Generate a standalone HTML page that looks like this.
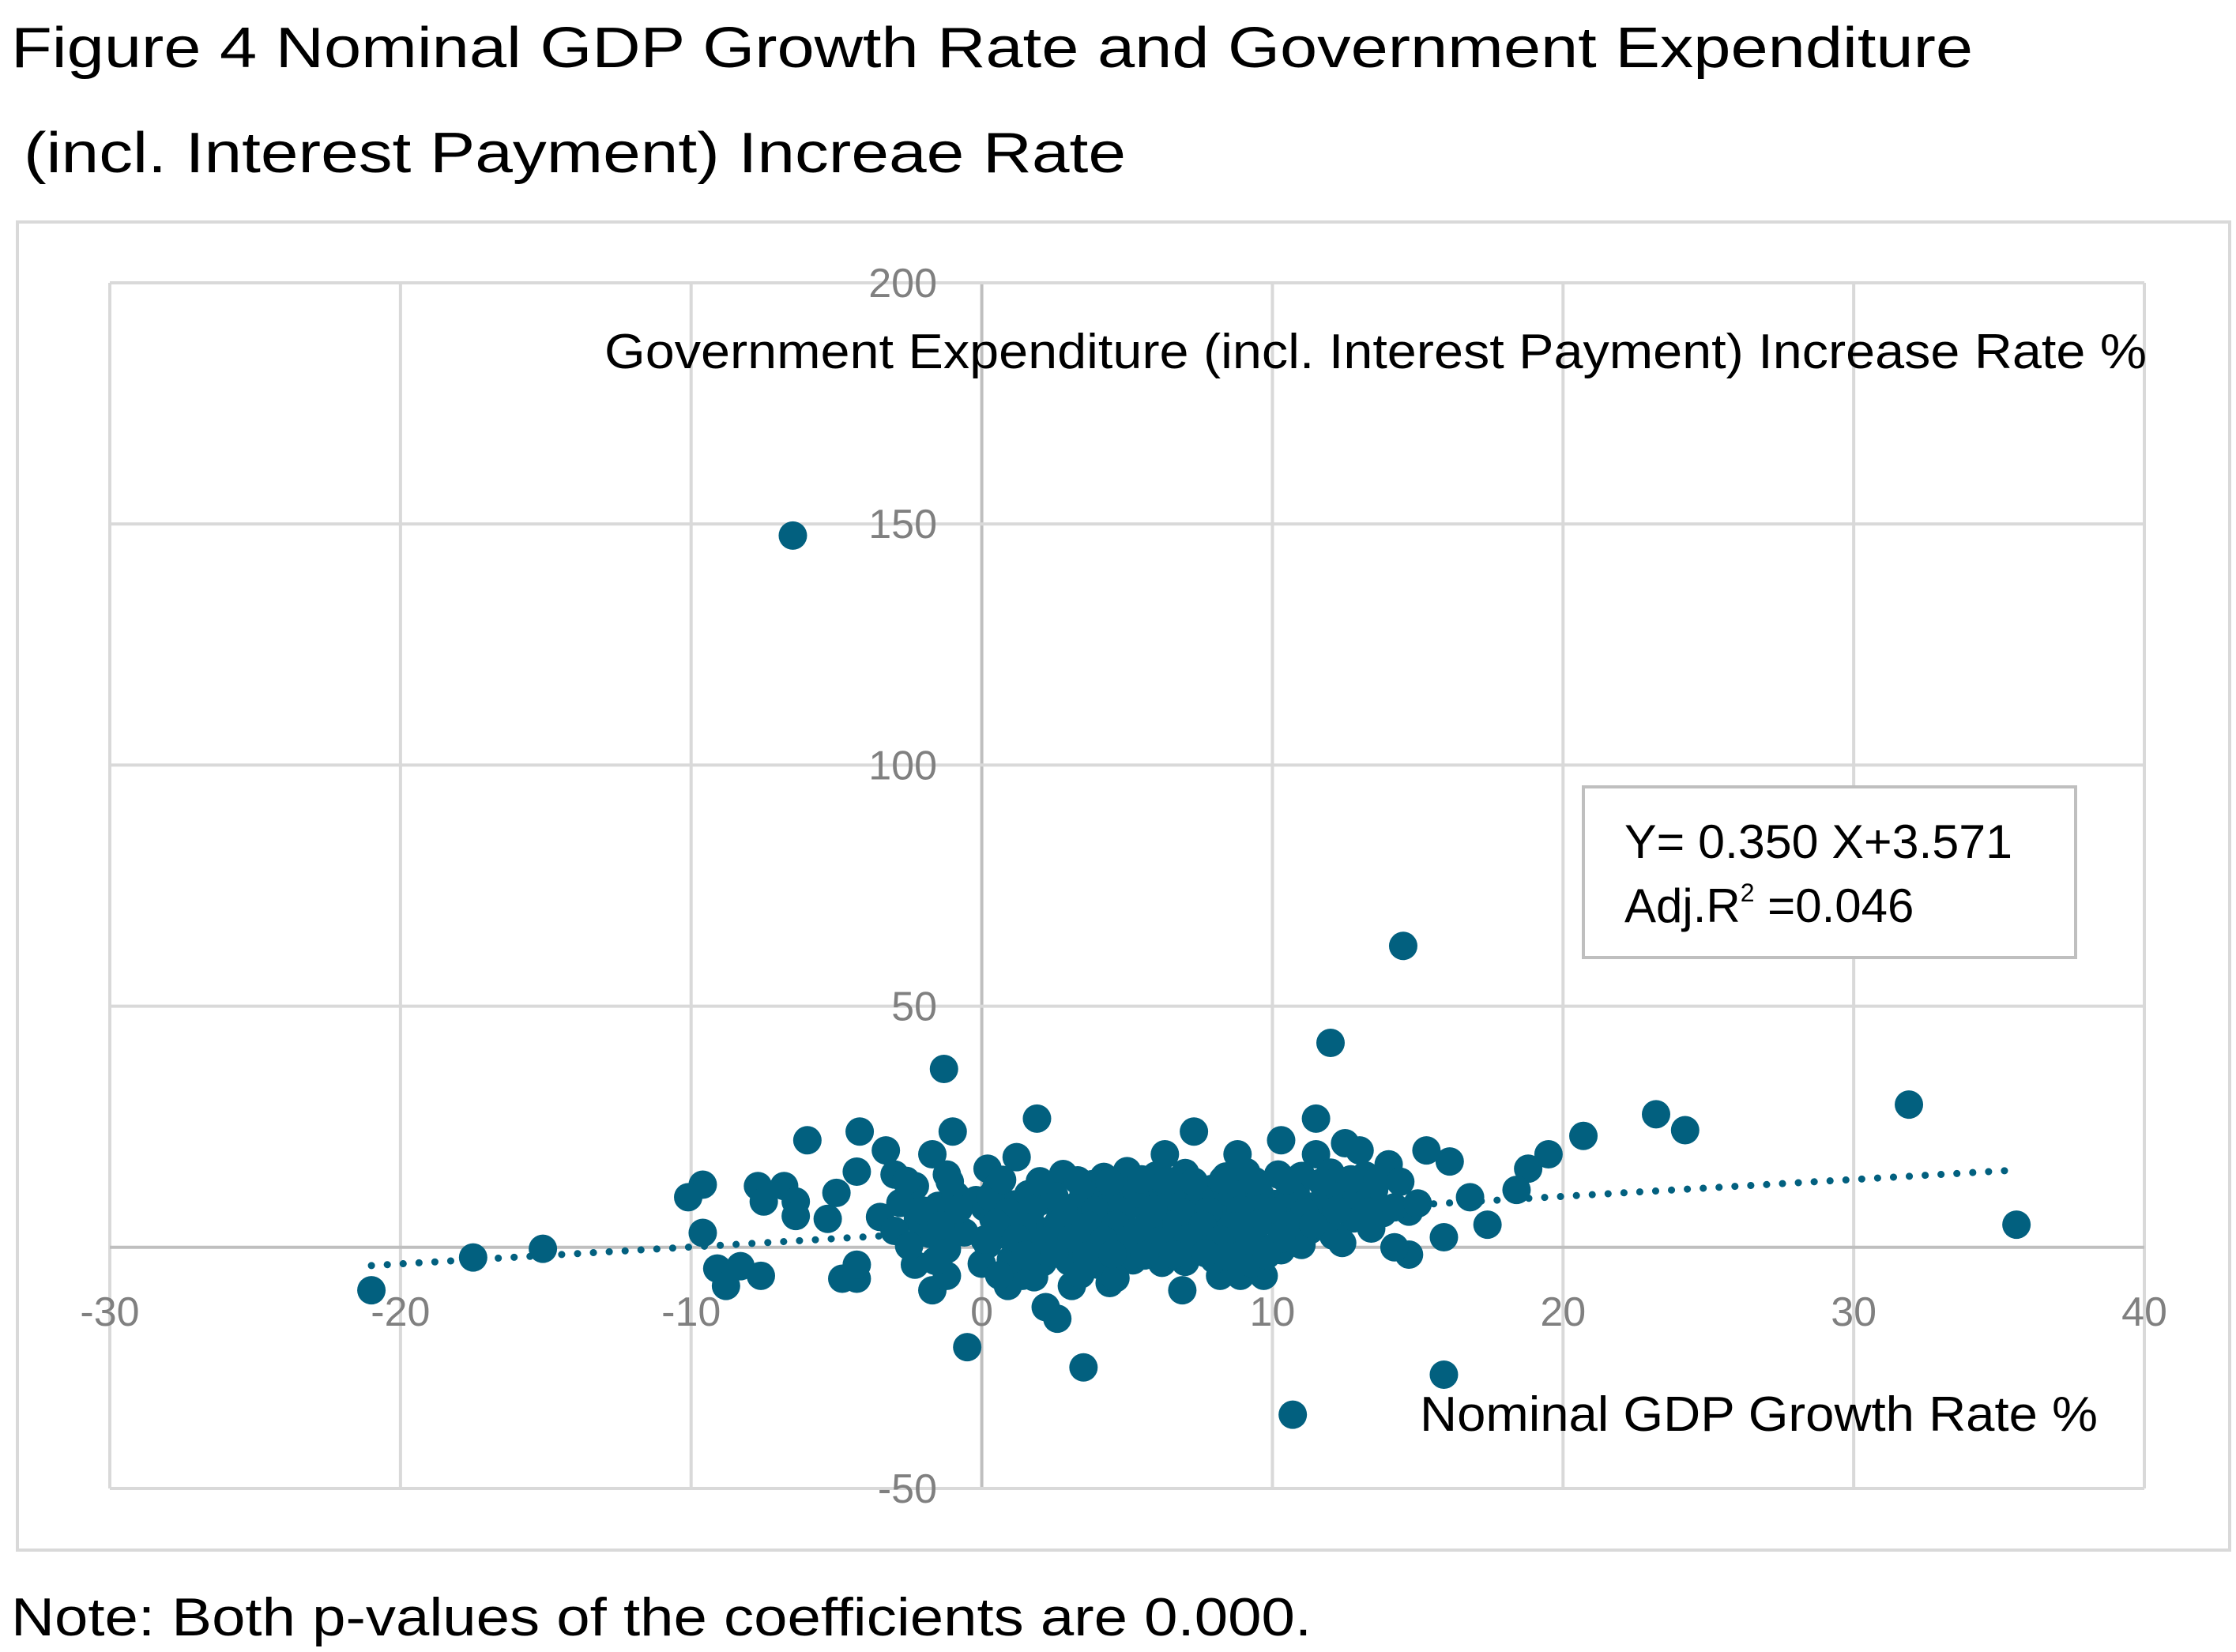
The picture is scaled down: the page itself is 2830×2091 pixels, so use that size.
<!DOCTYPE html>
<html><head><meta charset="utf-8"><style>
html,body{margin:0;padding:0;background:#fff;}
svg{display:block;font-family:"Liberation Sans",sans-serif;}
</style></head><body>
<svg id="chart" width="2830" height="2091" viewBox="0 0 2830 2091" xmlns="http://www.w3.org/2000/svg">
<text x="14" y="85" font-size="72" textLength="2483" lengthAdjust="spacingAndGlyphs" fill="#000">Figure 4 Nominal GDP Growth Rate and Government Expenditure</text>
<text x="30" y="218" font-size="72" textLength="1395" lengthAdjust="spacingAndGlyphs" fill="#000">(incl. Interest Payment) Increae Rate</text>
<rect x="22" y="281" width="2800" height="1681" fill="none" stroke="#d9d9d9" stroke-width="4"/>
<g id="grid"></g>
<g id="axes"></g>
<g id="trend"></g>
<g id="pts"></g>
<text x="765" y="466" font-size="62" textLength="1952" lengthAdjust="spacingAndGlyphs" fill="#000">Government Expenditure  (incl. Interest Payment) Increase Rate %</text>
<text x="1797" y="1811" font-size="62" textLength="858" lengthAdjust="spacingAndGlyphs" fill="#000">Nominal GDP Growth Rate %</text>
<g>
<rect x="2004" y="996" width="623" height="216" fill="#fff" stroke="#bfbfbf" stroke-width="4"/>
<text x="2056" y="1086" font-size="60" textLength="491" lengthAdjust="spacingAndGlyphs" fill="#000">Y= 0.350 X+3.571</text>
<text x="2056" y="1167" font-size="60" fill="#000">Adj.R<tspan font-size="32" dy="-26">2</tspan><tspan dy="26"> =0.046</tspan></text>
</g>
<text x="14" y="2070" font-size="68" textLength="1646" lengthAdjust="spacingAndGlyphs" fill="#000">Note: Both p-values of the coefficients are 0.000.</text>
</svg>
<script>
const xTicks=[-30,-20,-10,0,10,20,30,40];
const yTicks=[-50,0,50,100,150,200];
const slope=0.350, intercept=3.571;
const trendRange=[-21,35.6];
const xs=[-6.5,14.5,12.0,-1.3,31.9,23.2,24.2,20.7,19.5,18.8,18.4,17.4,35.6,15.9,10.7,3.5,-0.5,2.6,2.2,-21.0,-17.5,-15.1,-9.6,-10.1,-9.6,-9.1,-8.8,-8.3,-7.6,-7.7,-7.5,-6.8,-6.4,-6.4,-6.0,-5.3,-5.0,-4.8,-4.3,-4.3,-4.2,-3.3,-4.3,-3.0,-2.3,-1.7,-1.0,-1.2,-1.7,-1.2,-2.3,0.2,1.2,1.9,0.1,8.8,7.3,6.3,10.3,11.5,11.5,12.5,13.0,14.0,15.3,16.1,16.8,14.7,14.7,14.2,15.9,6.9,8.2,8.9,9.7,10.3,0.9,1.4,3.1,4.4,4.8,
0.5,2.3,3.8,4.9,5.6,6.4,7.9,8.6,9.4,10.8,11.9,12.6,13.5,
-2.8,-1.5,-0.2,1.1,2.0,3.2,4.4,5.3,6.1,7.2,8.1,9.0,10.1,11.2,12.3,13.1,14.2,15.0,
-3.5,-2.2,-1.0,0.4,1.5,2.7,3.6,4.7,5.8,6.8,7.6,8.5,9.7,10.6,11.6,12.8,13.8,
-3.0,-1.8,-0.6,0.8,1.9,2.9,4.1,5.1,6.3,7.4,8.3,9.2,10.4,11.3,12.1,13.4,
-2.5,-1.2,0.2,1.3,2.4,3.3,4.5,5.5,6.6,7.7,8.8,9.9,11.0,12.4,
-1.6,0.0,1.0,2.1,3.0,4.0,5.2,6.2,7.0,8.0,9.3,
2.8,4.2,5.0,6.0,7.0,8.4,9.1,10.2,11.0,12.0,13.2,
0.6,1.8,3.4,4.6,
-0.9,0.3,1.6,2.5,3.5,4.3,5.4,6.5,7.5,8.6,9.6,10.7,11.8,12.9,
-2.0,-0.8,0.9,1.7,2.8,3.9,4.8,5.9,6.9,7.8,8.9,10.0,11.1,12.2,13.3,
-1.4,0.5,1.4,2.6,3.7,4.6,5.7,6.7,7.6,8.7,9.5,10.5,11.4,
0.1,1.2,2.2,3.1,4.2,5.1,6.1,7.1,8.2,9.2,10.3,
1.5,2.5,3.6,4.5,5.6,6.6,7.7,8.5,9.8,
-2.6,-1.1,0.7,2.0,3.3,4.4,5.5,6.4,7.3,8.3,9.4,10.5,11.7,12.7,13.6,14.4];
const ys=[147.6,62.5,42.4,37,29.6,27.6,24.3,23.1,19.3,16.3,11.9,4.7,4.7,-26.4,-34.7,-24.9,-20.7,-14.8,-12.4,-8.9,-2.1,-0.3,13,10.4,3,-4.4,-8,-3.9,-5.9,12.7,9.5,12.7,9.5,6.5,22.2,5.9,11.3,-6.5,-6.5,-3.6,24,20.1,15.7,15.1,12.7,19.3,24,15.1,-8.9,-5.9,-3.6,16.3,18.7,26.7,8.3,19.3,24,19.3,22.2,26.7,19.3,21.6,20.1,17.2,20.1,17.8,10.4,7.4,-1.5,0,2.1,-8.9,-5.9,-5.9,-5.9,-0.6,-8,-5.9,-8,-7.4,0,
12.4,11.6,13.1,12.2,11.8,13.4,12.1,11.5,12.9,11.7,13.0,12.3,11.9,
9.2,8.6,9.8,8.9,9.5,8.4,9.9,9.1,8.7,9.6,8.8,9.3,9.0,8.5,9.7,9.4,8.3,9.1,
6.3,5.7,6.8,5.9,6.4,6.1,5.6,6.7,6.0,6.5,5.8,6.9,6.2,5.5,6.6,6.0,7.1,
3.4,2.8,3.1,2.6,3.7,3.2,2.9,3.5,2.7,3.3,3.8,2.5,3.0,3.6,2.4,3.9,
0.3,-0.4,0.6,-0.2,0.8,0.1,-0.5,0.4,-0.1,0.7,0.2,-0.3,0.5,0.9,
-2.8,-3.4,-2.6,-3.1,-2.9,-3.6,-2.7,-3.2,-3.0,-2.5,-3.3,
15.2,14.6,15.8,14.9,15.4,14.7,15.6,15.1,14.8,15.5,14.9,
-5.8,-6.2,-5.6,-6.4,
10.8,10.5,11.0,10.6,10.9,10.4,11.1,10.7,10.3,11.2,10.6,10.9,10.5,10.8,
7.6,7.9,7.3,7.8,7.5,7.7,7.4,7.9,7.2,7.6,7.8,7.5,7.3,7.7,7.4,
4.6,4.9,4.4,4.8,4.5,4.7,4.3,4.9,4.6,4.4,4.8,4.5,4.7,
1.6,1.9,1.4,1.8,1.5,1.7,1.3,1.9,1.6,1.4,1.8,
-1.6,-1.3,-1.8,-1.4,-1.7,-1.5,-1.2,-1.9,-1.6,
13.8,13.6,14.0,13.7,13.9,13.5,14.1,13.8,13.6,14.0,13.7,13.9,13.5,14.1,13.8,13.6];
const NS='http://www.w3.org/2000/svg';
const X0=139,X1=2714,Y0=358,Y1=1884;
function sx(v){return X0+(v-xTicks[0])/(xTicks[xTicks.length-1]-xTicks[0])*(X1-X0);}
function sy(v){return Y1-(v-yTicks[0])/(yTicks[yTicks.length-1]-yTicks[0])*(Y1-Y0);}
function mk(tag,attrs){const e=document.createElementNS(NS,tag);for(const k in attrs)e.setAttribute(k,attrs[k]);return e;}
const grid=document.getElementById('grid'),axes=document.getElementById('axes');
xTicks.forEach(t=>{
 const l=mk('line',{x1:sx(t),x2:sx(t),y1:Y0,y2:Y1,stroke:t===0?'#bfbfbf':'#d9d9d9','stroke-width':4});
 
 
 grid.appendChild(l);
 const tx=mk('text',{x:sx(t),y:1678,'font-size':52,fill:'#808080','text-anchor':'middle'});
 tx.textContent=t;
 
 
 axes.appendChild(tx);
});
yTicks.forEach(t=>{
 const l=mk('line',{x1:X0,x2:X1,y1:sy(t),y2:sy(t),stroke:t===0?'#bfbfbf':'#d9d9d9','stroke-width':4});
 
 
 grid.appendChild(l);
 const tx=mk('text',{x:1186,y:sy(t)+18,'font-size':52,fill:'#808080','text-anchor':'end'});
 tx.textContent=t;
 
 
 axes.appendChild(tx);
});
const pts=document.getElementById('pts');
for(let i=0;i<xs.length;i++){
 const c=mk('circle',{cx:sx(xs[i]),cy:sy(ys[i]),r:18,fill:'#02607f'});
 
 
 pts.appendChild(c);
}
const tl=mk('line',{x1:sx(trendRange[0]),y1:sy(slope*trendRange[0]+intercept),x2:sx(trendRange[1]),y2:sy(slope*trendRange[1]+intercept),stroke:'#02607f','stroke-width':9,'stroke-linecap':'round','stroke-dasharray':'0.1 20'});


document.getElementById('trend').appendChild(tl);
</script>
</body></html>
